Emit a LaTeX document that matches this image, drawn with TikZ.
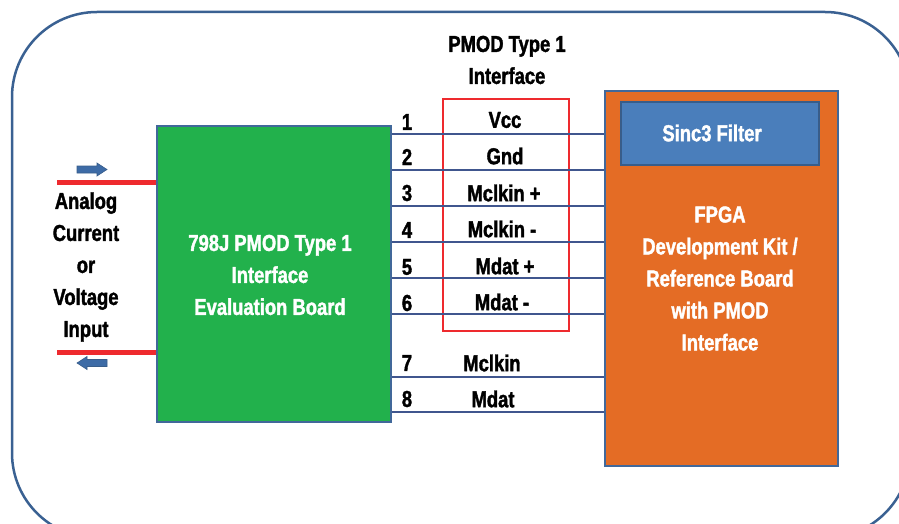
\documentclass[tikz,border=0pt]{standalone}
\usepackage{fontspec}
\setmainfont{Liberation Sans}[FakeStretch=0.8, BoldFeatures={FakeBold=1.6}]
\usetikzlibrary{calc}
\definecolor{frameblue}{HTML}{3A6192}
\definecolor{boxedge}{HTML}{41689A}
\definecolor{boardgreen}{HTML}{22B14C}
\definecolor{fpgaorange}{HTML}{E46C25}
\definecolor{sincblue}{HTML}{4A7EBB}
\definecolor{sincedge}{HTML}{385D8A}
\definecolor{wireblue}{HTML}{40568E}
\definecolor{pinred}{HTML}{EE2A2E}
\definecolor{arrowblue}{HTML}{3D6BA6}
\tikzset{
  txt/.style={font=\fontsize{23}{32}\selectfont\bfseries, align=center, inner sep=0pt},
  block/.style={draw=boxedge, line width=2.5pt, inner sep=0pt},
  wire/.style={draw=wireblue, line width=1.3pt},
  inputline/.style={draw=pinred, line width=5pt},
  flow/.style={fill=arrowblue, draw=sincedge, line width=0.6pt, line join=miter},
}
\begin{document}
\begin{tikzpicture}[x=1pt, y=-1pt]
\useasboundingbox (0,0) rectangle (899,524);
% outer frame, running past the page on the right and bottom
\draw[frameblue, line width=2.5pt, rounded corners=85pt] (12,12) rectangle (910,538);

% evaluation board
\node[block, fill=boardgreen, minimum width=234pt, minimum height=296pt] (g) at (274,274) {};
\node[txt, text=white] (gtxt) at (270,275) {798J PMOD Type 1\\Interface\\Evaluation Board};

% FPGA board
\node[block, fill=fpgaorange, minimum width=233pt, minimum height=375pt] (o) at (721.5,278.5) {};
\node[txt, text=white] (otxt) at (720,278.5) {FPGA\\Development Kit /\\Reference Board\\with PMOD\\Interface};
\node[draw=sincedge, line width=2.5pt, fill=sincblue, minimum width=198pt, minimum height=63pt, inner sep=0pt] (sinc) at (720,133.5) {};
\node[txt, text=white] (sinctxt) at (712,133) {Sinc3 Filter};

% PMOD connector outline and title
\node[draw=pinred, line width=2.8pt, minimum width=126pt, minimum height=232pt, inner sep=0pt] (pmod) at (506,215) {};
\node[txt] (title) at (507,60) {PMOD Type 1\\Interface};

% pin wires between the boards
\foreach \i/\y in {1/134,2/170,3/206,4/242,5/278,6/314,7/377,8/412} {
  \coordinate (w\i) at (0,\y);
  \draw[wire] (g.east |- w\i) -- (o.west |- w\i);
}

% pin numbers
\foreach \i/\y in {1/122,2/157,3/193,4/230,5/267,6/303,7/363,8/399}
  \node[txt] (n\i) at (407,\y) {\i};

% signal names
\node[txt] (s1) at (505,120) {Vcc};
\node[txt] (s2) at (505,156) {Gnd};
\node[txt] (s3) at (504,193) {Mclkin +};
\node[txt] (s4) at (502,229) {Mclkin -};
\node[txt] (s5) at (505,266) {Mdat +};
\node[txt] (s6) at (502,302) {Mdat -};
\node[txt] (s7) at (492,363) {Mclkin};
\node[txt] (s8) at (493,399) {Mdat};

% analog input pair
\coordinate (inA) at (57,182);
\coordinate (inB) at (57,352);
\draw[inputline] (inA) -- (g.west |- inA);
\draw[inputline] (inB) -- (g.west |- inB);
% block arrows: current flowing in (top) and back out (bottom)
\draw[flow] (77,166) -- (97,166) -- (97,163) -- (107,169.5) -- (97,176) -- (97,173) -- (77,173) -- cycle;
\draw[flow] (107,359.5) -- (87,359.5) -- (87,356.5) -- (77,363) -- (87,369.5) -- (87,366.5) -- (107,366.5) -- cycle;
\node[txt] (analog) at (86,267) {Analog\\Current\\or\\Voltage\\Input};
\end{tikzpicture}
\end{document}
